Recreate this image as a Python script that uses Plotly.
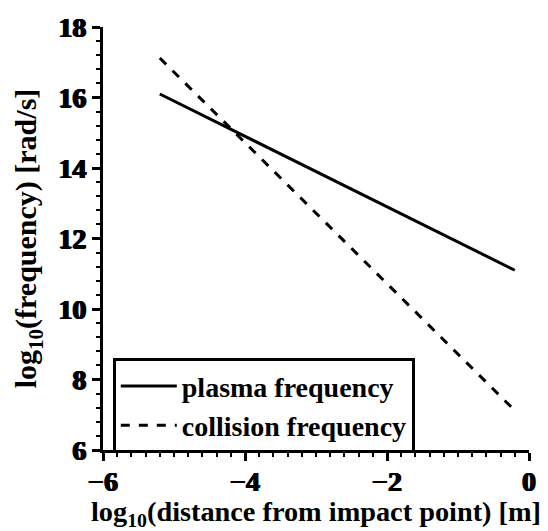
import plotly.graph_objects as go

x_vals = [-5.2, -0.2]
plasma_freq = [16.1, 11.1]
collision_freq = [17.12, 7.12]

x_ticks = [-6, -4, -2, 0]
x_tick_labels = ["\u22126", "\u22124", "\u22122", "0"]
y_ticks = [6, 8, 10, 12, 14, 16, 18]
y_tick_labels = ["6", "8", "10", "12", "14", "16", "18"]

font_family = "Liberation Serif"
thick = "0.8px 0 0 black, -0.8px 0 0 black, 0 0.5px 0 black"

fig = go.Figure()
fig.add_trace(go.Scatter(x=x_vals, y=plasma_freq, mode="lines", name="plasma frequency",
                         line=dict(color="black", width=3)))
fig.add_trace(go.Scatter(x=x_vals, y=collision_freq, mode="lines", name="collision frequency",
                         line=dict(color="black", width=3, dash="dash")))

axis_common = dict(
    showgrid=False, zeroline=False, showline=True, linecolor="black", linewidth=3,
    ticks="outside", ticklen=8, tickwidth=3, tickcolor="black",
    tickfont=dict(family=font_family, size=28, color="black", weight=700, shadow=thick),
)

fig.update_xaxes(range=[-6, 0], tickvals=x_ticks, ticktext=x_tick_labels,
                 minor=dict(dtick=0.2, ticklen=4, tickwidth=2, tickcolor="black", ticks="outside"),
                 title_text="log<sub>10</sub>(distance from impact point) [m]", title_standoff=0,
                 title_font=dict(family=font_family, size=28.3, color="black", weight=700),
                 ticklabelstandoff=-4,
                 **axis_common)
fig.update_yaxes(range=[6, 18], tickvals=y_ticks, ticktext=y_tick_labels,
                 minor=dict(dtick=0.4, ticklen=4, tickwidth=2, tickcolor="black", ticks="outside"),
                 title_text="log<sub>10</sub>(frequency) [rad/s]", title_standoff=13,
                 title_font=dict(family=font_family, size=30, color="black", weight=700),
                 **axis_common)

fig.update_layout(
    width=548, height=531,
    margin=dict(l=103, r=13, t=16, b=81),
    plot_bgcolor="white", paper_bgcolor="white",
    font=dict(family=font_family, color="black", weight=700),
    showlegend=True,
    legend=dict(x=0.023, y=0.217, xanchor="left", yanchor="top",
                bordercolor="black", borderwidth=3, bgcolor="white",
                font=dict(family=font_family, size=28, color="black", weight=700),
                tracegroupgap=0, itemwidth=56),
)

fig.write_html("out.html")
